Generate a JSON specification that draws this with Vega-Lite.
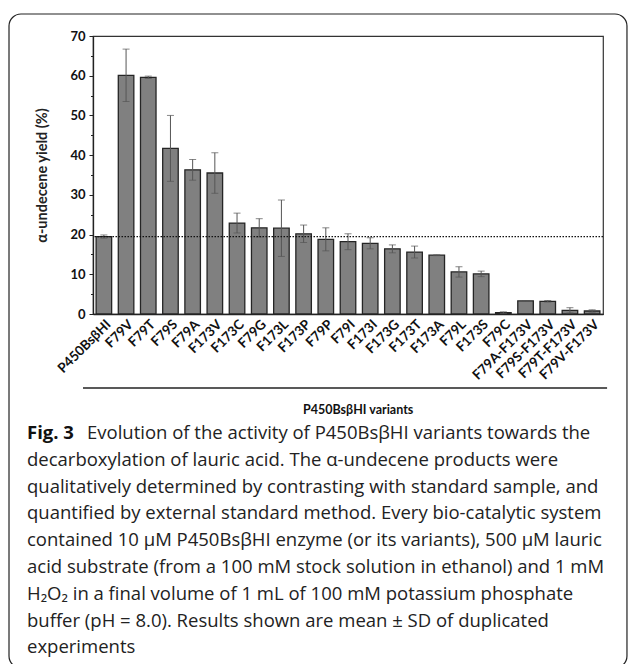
{
  "$schema": "https://vega.github.io/schema/vega-lite/v6.json",
  "padding": {"left": 8, "top": 13, "right": 0, "bottom": 0},
  "background": "white",
  "bounds": "flush",
  "spacing": 74,
  "config": {"view": {"stroke": null}, "font": "Lato"},
  "vconcat": [
    {
      "width": 510,
      "height": 278,
      "view": {"stroke": "#333", "strokeWidth": 1.2},
      "data": {"values": [
        {"variant": "P450BsβHI", "mean": 19.5, "sd": 0.4},
        {"variant": "F79V", "mean": 60.1, "sd": 6.6},
        {"variant": "F79T", "mean": 59.6, "sd": 0.3},
        {"variant": "F79S", "mean": 41.7, "sd": 8.3},
        {"variant": "F79A", "mean": 36.3, "sd": 2.6},
        {"variant": "F173V", "mean": 35.5, "sd": 5.1},
        {"variant": "F173C", "mean": 22.9, "sd": 2.5},
        {"variant": "F79G", "mean": 21.7, "sd": 2.3},
        {"variant": "F173L", "mean": 21.6, "sd": 7.1},
        {"variant": "F173P", "mean": 20.2, "sd": 2.2},
        {"variant": "F79P", "mean": 18.8, "sd": 2.9},
        {"variant": "F79I", "mean": 18.2, "sd": 2.0},
        {"variant": "F173I", "mean": 17.8, "sd": 1.4},
        {"variant": "F173G", "mean": 16.4, "sd": 1.0},
        {"variant": "F173T", "mean": 15.6, "sd": 1.5},
        {"variant": "F173A", "mean": 14.8, "sd": 0.1},
        {"variant": "F79L", "mean": 10.6, "sd": 1.3},
        {"variant": "F173S", "mean": 10.1, "sd": 0.7},
        {"variant": "F79C", "mean": 0.35, "sd": 0.2},
        {"variant": "F79A-F173V", "mean": 3.3, "sd": 0.05},
        {"variant": "F79S-F173V", "mean": 3.2, "sd": 0.2},
        {"variant": "F79T-F173V", "mean": 0.93, "sd": 0.66},
        {"variant": "F79V-F173V", "mean": 0.76, "sd": 0.3}
      ]},
      "layer": [
        {
          "mark": {"type": "bar", "fill": "#808080", "stroke": "#252525", "strokeWidth": 1.3},
          "encoding": {
            "x": {"field": "variant", "type": "nominal", "sort": null,
              "scale": {"paddingInner": 0.3, "paddingOuter": 0.14},
              "axis": {"title": null, "labelAngle": -45, "labelFont": "Lato", "labelFontWeight": "bold", "labelFontSize": 13.5, "labelColor": "#111", "ticks": false, "domainColor": "#222", "domainWidth": 1.3, "labelPadding": 3}},
            "y": {"field": "mean", "type": "quantitative",
              "scale": {"domain": [0, 70], "nice": false},
              "axis": {"values": [0, 10, 20, 30, 40, 50, 60, 70], "grid": false, "title": "α-undecene yield (%)", "titleFont": "Lato", "titleFontSize": 14.5, "titleFontWeight": "bold", "titleColor": "#222", "titlePadding": 20, "labelFont": "Lato", "labelFontWeight": "bold", "labelFontSize": 13, "labelColor": "#111", "tickSize": 4, "tickColor": "#222", "domainColor": "#222", "domainWidth": 1.3, "labelPadding": 4}}
          }
        },
        {
          "mark": {"type": "errorbar", "ticks": {"size": 7, "color": "#555"}, "rule": {"color": "#555", "strokeWidth": 1}},
          "encoding": {
            "x": {"field": "variant", "type": "nominal", "sort": null},
            "y": {"field": "mean", "type": "quantitative", "axis": null},
            "yError": {"field": "sd"}
          }
        },
        {
          "data": {"values": [{"ref": 19.5}]},
          "mark": {"type": "rule", "strokeDash": [1.5, 1.5], "color": "#111", "strokeWidth": 1.3},
          "encoding": {
            "y": {"field": "ref", "type": "quantitative",
              "axis": {"orient": "left", "values": [5, 15, 25, 35, 45, 55, 65], "labels": false, "tickSize": 2.5, "tickColor": "#222", "domain": false, "title": null, "grid": false}}
          }
        }
      ],
      "resolve": {"axis": {"y": "independent"}}
    },
    {
      "width": 510,
      "height": 276,
      "data": {"values": [{}]},
      "layer": [
        {
          "mark": {"type": "rect", "fill": "transparent", "stroke": "#222", "strokeWidth": 1.2, "cornerRadius": 12},
          "encoding": {
            "x": {"datum": -0.1647, "type": "quantitative", "scale": {"domain": [0, 1]}, "axis": null},
            "x2": {"datum": 1.047},
            "y": {"datum": -15.634, "type": "quantitative", "scale": {"domain": [-1.679, 8.62], "reverse": true, "nice": false, "zero": false}, "axis": null},
            "y2": {"datum": 8.769}
          }
        },
        {
          "mark": {"type": "rule", "color": "#222", "strokeWidth": 1.3},
          "encoding": {
            "x": {"datum": -0.0196, "type": "quantitative", "scale": {"domain": [0, 1]}, "axis": null},
            "x2": {"datum": 1.008},
            "y": {"datum": -1.679, "type": "quantitative", "scale": {"domain": [-1.679, 8.62], "reverse": true, "nice": false, "zero": false}, "axis": null}
          }
        },
        {
          "data": {"values": [{"label": "P450BsβHI variants"}]},
          "mark": {"type": "text", "font": "Lato", "fontWeight": "bold", "fontSize": 12.5, "color": "#111", "align": "center", "baseline": "middle"},
          "encoding": {
            "x": {"datum": 0.52, "type": "quantitative", "scale": {"domain": [0, 1]}, "axis": null},
            "y": {"datum": -0.858, "type": "quantitative", "scale": {"domain": [-1.679, 8.62], "reverse": true, "nice": false, "zero": false}, "axis": null},
            "text": {"field": "label"}
          }
        },
        {
          "data": {"values": [{"label": "Fig. 3"}]},
          "mark": {"type": "text", "font": "Open Sans", "fontWeight": "bold", "fontSize": 18.5, "color": "#111", "align": "left", "baseline": "middle"},
          "encoding": {
            "x": {"datum": -0.1294, "type": "quantitative", "scale": {"domain": [0, 1]}, "axis": null},
            "y": {"datum": 0, "type": "quantitative", "scale": {"domain": [-1.679, 8.62], "reverse": true, "nice": false, "zero": false}, "axis": null},
            "text": {"field": "label"}
          }
        },
        {
          "data": {"values": [{"line": 0, "text": "Evolution of the activity of P450BsβHI variants towards the"}]},
          "mark": {"type": "text", "font": "Open Sans", "fontWeight": 400, "fontSize": 18.5, "color": "#222", "align": "left", "baseline": "middle"},
          "encoding": {
            "x": {"datum": -0.0118, "type": "quantitative", "scale": {"domain": [0, 1]}, "axis": null},
            "y": {"field": "line", "type": "quantitative", "scale": {"domain": [-1.679, 8.62], "reverse": true, "nice": false, "zero": false}, "axis": null},
            "text": {"field": "text"}
          }
        },
        {
          "data": {"values": [
            {"line": 1, "text": "decarboxylation of lauric acid. The α-undecene products were"},
            {"line": 2, "text": "qualitatively determined by contrasting with standard sample, and"},
            {"line": 3, "text": "quantified by external standard method. Every bio-catalytic system"},
            {"line": 4, "text": "contained 10 μM P450BsβHI enzyme (or its variants), 500 μM lauric"},
            {"line": 5, "text": "acid substrate (from a 100 mM stock solution in ethanol) and 1 mM"},
            {"line": 6, "text": "H₂O₂ in a final volume of 1 mL of 100 mM potassium phosphate"},
            {"line": 7, "text": "buffer (pH = 8.0). Results shown are mean ± SD of duplicated"},
            {"line": 8, "text": "experiments"}
          ]},
          "mark": {"type": "text", "font": "Open Sans", "fontWeight": 400, "fontSize": 18.5, "color": "#222", "align": "left", "baseline": "middle"},
          "encoding": {
            "x": {"datum": -0.1294, "type": "quantitative", "scale": {"domain": [0, 1]}, "axis": null},
            "y": {"field": "line", "type": "quantitative", "scale": {"domain": [-1.679, 8.62], "reverse": true, "nice": false, "zero": false}, "axis": null},
            "text": {"field": "text"}
          }
        }
      ]
    }
  ]
}
